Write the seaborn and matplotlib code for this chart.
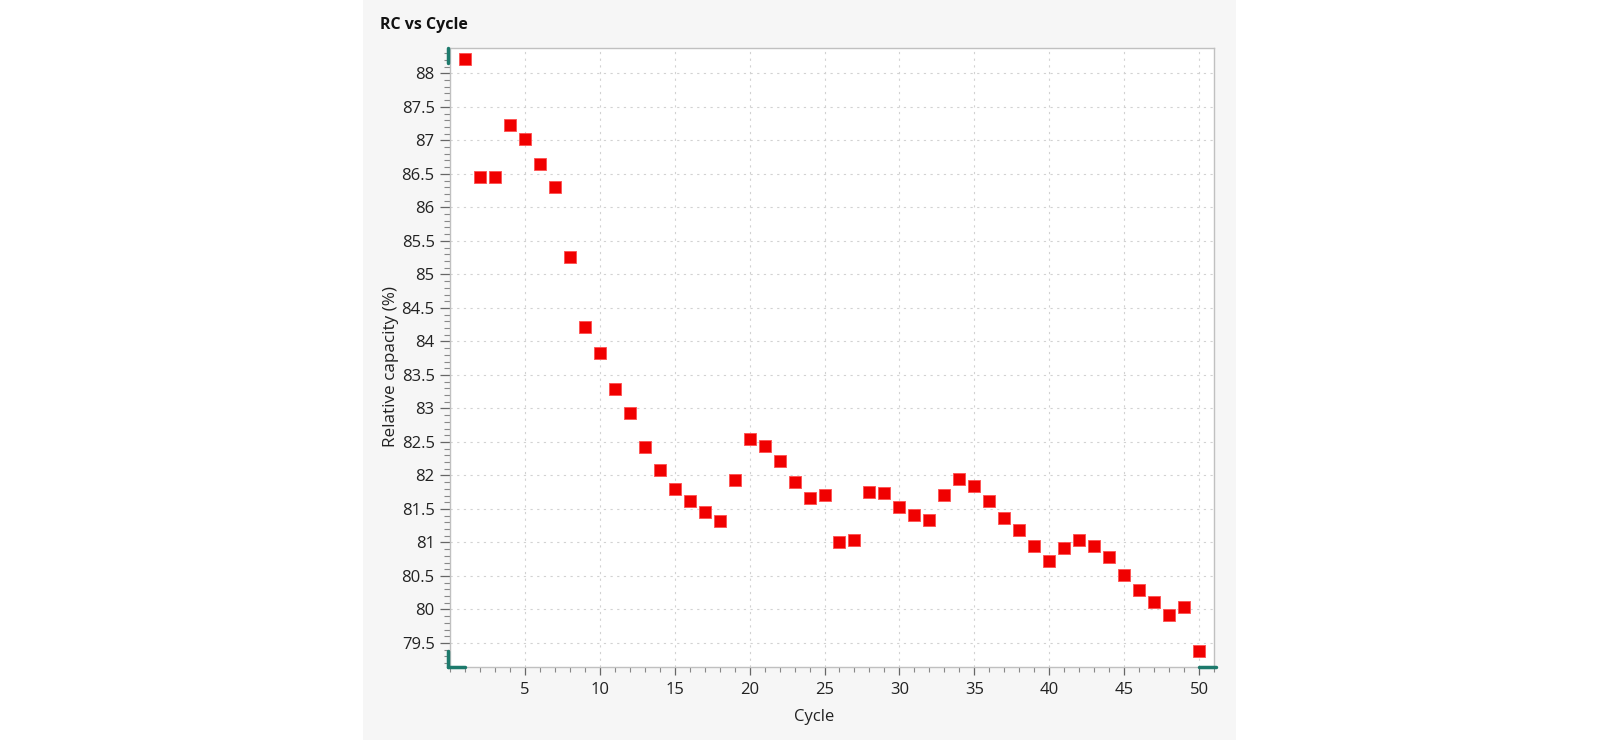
import matplotlib
matplotlib.use("Agg")
import matplotlib.pyplot as plt
from matplotlib.patches import Rectangle
from matplotlib.ticker import MultipleLocator
import seaborn as sns
import pandas as pd

cycles = list(range(1, 51))
capacity = [
    88.21, 86.45, 86.45, 87.235, 87.02, 86.65, 86.305, 85.255, 84.215, 83.83,
    83.295, 82.925, 82.425, 82.085, 81.80, 81.62, 81.46, 81.32, 81.925, 82.54,
    82.435, 82.21, 81.895, 81.665, 81.705, 81.00, 81.04, 81.755, 81.735, 81.53,
    81.415, 81.33, 81.715, 81.94, 81.85, 81.625, 81.36, 81.18, 80.94, 80.72,
    80.925, 81.04, 80.95, 80.785, 80.515, 80.285, 80.115, 79.92, 80.04, 79.375,
]
title = "RC vs Cycle"
x_label = "Cycle"
y_label = "Relative capacity (%)"

df = pd.DataFrame({"Cycle": cycles, "RC": capacity})

sns.set_theme(style="white")
plt.rcParams["font.family"] = ["Open Sans", "DejaVu Sans"]

fig = plt.figure(figsize=(16, 7.4), dpi=100)
fig.patch.set_facecolor("white")
fig.patches.append(Rectangle((363 / 1600, 0), (1236 - 363) / 1600, 1,
                             transform=fig.transFigure, facecolor="#f6f6f6",
                             edgecolor="none", zorder=-10))

ax = fig.add_axes([450 / 1600, 1 - 667 / 740, (1214 - 450) / 1600, (667 - 48) / 740])
ax.set_facecolor("white")

sns.scatterplot(data=df, x="Cycle", y="RC", marker="s", s=80, color="#f00000",
                edgecolor="#ff5050", linewidth=0.6, ax=ax, zorder=3)

ax.set_xlim(0, 51)
ax.set_ylim(79.142, 88.378)
ax.xaxis.set_major_locator(MultipleLocator(5))
ax.xaxis.set_minor_locator(MultipleLocator(1))
ax.yaxis.set_major_locator(MultipleLocator(0.5))
ax.yaxis.set_minor_locator(MultipleLocator(0.1))
ax.set_xticks([5, 10, 15, 20, 25, 30, 35, 40, 45, 50])
ax.set_xticklabels([str(v) for v in [5, 10, 15, 20, 25, 30, 35, 40, 45, 50]])
ax.yaxis.set_major_formatter(matplotlib.ticker.FuncFormatter(lambda v, p: f"{v:g}"))

ax.grid(True, which="major", color="#d2d2d2", linestyle=(0, (2, 4)), linewidth=0.8, zorder=0)
for s in ax.spines.values():
    s.set_color("#c0c0c0")
    s.set_linewidth(1.0)

ax.tick_params(axis="y", which="major", direction="out", length=7, width=0.9,
               color="#666666", labelsize=12, labelcolor="#222222", pad=4, left=True)
ax.tick_params(axis="y", which="minor", direction="out", length=4, width=0.8,
               color="#888888", left=True)
ax.tick_params(axis="x", which="major", direction="out", length=6, width=0.9,
               color="#666666", labelsize=12, labelcolor="#222222", pad=5, bottom=True)
ax.tick_params(axis="x", which="minor", direction="out", length=3.5, width=0.8,
               color="#888888", bottom=True)

ax.set_xlabel(x_label, fontsize=12, color="#222222", labelpad=8)
ax.set_ylabel(y_label, fontsize=12.3, color="#222222", labelpad=2)
ax.xaxis.label.set_x(0.476)
ax.yaxis.label.set_y(0.485)

fig.text(380 / 1600, 1 - 25 / 740, title, fontsize=11.5, fontweight="bold",
         color="#111111", ha="left", va="center")

teal = "#1d7a6c"
tr = ax.transAxes
ax.plot([-0.002, -0.002], [1.0, 1 - 15 / 619], color=teal, lw=2.5, transform=tr, clip_on=False, zorder=5)
ax.plot([-0.002, -0.002], [0.0, 16 / 619], color=teal, lw=2.5, transform=tr, clip_on=False, zorder=5)
ax.plot([-0.002, 1 / 51], [0.0, 0.0], color=teal, lw=2.5, transform=tr, clip_on=False, zorder=5)
ax.plot([50 / 51, 1.002], [0.0, 0.0], color=teal, lw=2.5, transform=tr, clip_on=False, zorder=5)

fig.savefig("out.png", dpi=100)
